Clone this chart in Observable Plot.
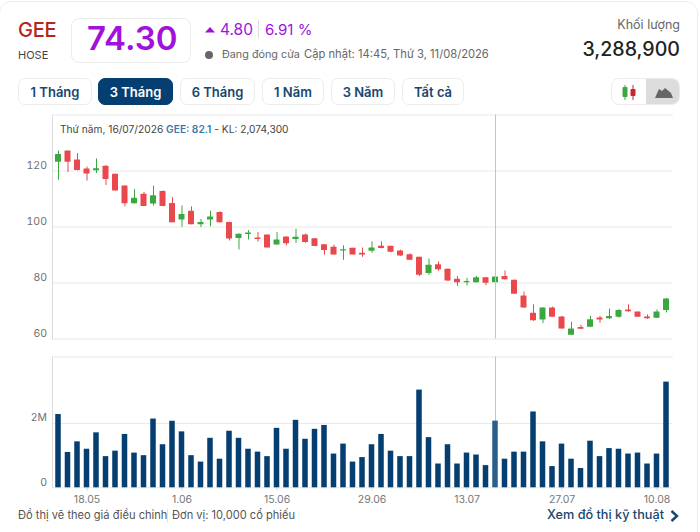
<!DOCTYPE html>
<html lang="vi">
<head>
<meta charset="utf-8">
<script src="https://cdn.jsdelivr.net/npm/d3@7"></script>
<script src="https://cdn.jsdelivr.net/npm/@observablehq/plot@0.6"></script>
<style>
html,body{margin:0;padding:0;background:#fff;width:700px;height:532px;overflow:hidden;font-family:Inter,"Noto Sans",sans-serif;}
#card{position:absolute;left:-1px;top:1px;width:699px;height:560px;border:1px solid #eeeeee;border-radius:12px;box-sizing:border-box;}
.t{position:absolute;white-space:nowrap;line-height:1;}
.box{position:absolute;box-sizing:border-box;border:1px solid #ececec;border-radius:8px;background:#fff;}
.btn{position:absolute;top:78px;height:27px;box-sizing:border-box;border:1px solid #ececec;border-radius:7px;background:#fff;color:#17476e;font-size:13px;font-weight:600;display:flex;align-items:center;justify-content:center;}
.btn.on{background:#053e70;border-color:#053e70;color:#fff;}
#top,#bottom{position:absolute;left:0;}
#top{top:0;}#bottom{top:345px;}
</style>
</head>
<body>
<div id="card"></div>
<div id="top"></div>
<div id="bottom"></div>

<div class="t" style="left:18px;top:20px;font-size:20px;color:#b3261e;font-weight:500;letter-spacing:-.3px">GEE</div>
<div class="t" style="left:18px;top:50px;font-size:11px;color:#444">HOSE</div>
<div class="box" style="left:71px;top:18px;width:120px;height:45px"></div>
<div class="t" style="left:87px;top:22px;font-size:33px;font-weight:600;color:#a012dc">74.30</div>
<svg width="12" height="8" style="position:absolute;left:204px;top:26px"><path d="M1 6.5L6 1L11 6.5Z" fill="#a012dc"/></svg>
<div class="t" style="left:220px;top:22px;font-size:15.5px;color:#a012dc">4.80</div>
<div style="position:absolute;left:258px;top:20px;width:1px;height:18px;background:#ddd"></div>
<div class="t" style="left:265px;top:22px;font-size:15px;color:#a012dc">6.91 %</div>
<div style="position:absolute;left:205px;top:51px;width:8px;height:8px;border-radius:50%;background:#666"></div>
<div class="t" style="left:222px;top:50px;font-size:10.8px;color:#666">Đang đóng cửa</div>
<div class="t" style="left:304px;top:49px;font-size:11.2px;color:#666">Cập nhật: 14:45, Thứ 3, 11/08/2026</div>
<div class="t" style="right:20px;top:19px;font-size:12.5px;color:#666">Khối lượng</div>
<div class="t" style="right:20px;top:40px;font-size:19.6px;color:#222;font-weight:500">3,288,900</div>

<div class="btn" style="left:18px;width:74px">1 Tháng</div>
<div class="btn on" style="left:98px;width:75px">3 Tháng</div>
<div class="btn" style="left:180px;width:75px">6 Tháng</div>
<div class="btn" style="left:262px;width:62px">1 Năm</div>
<div class="btn" style="left:331px;width:64px">3 Năm</div>
<div class="btn" style="left:402px;width:62px">Tất cả</div>

<div class="box" style="left:611px;top:78px;width:69px;height:27px;overflow:hidden">
  <div style="position:absolute;left:34px;top:0;width:35px;height:27px;background:#dcdcdc"></div>
  <svg width="69" height="27" style="position:absolute;left:0;top:0">
    <path d="M13 6V21" stroke="#3aa83f"/><rect x="10.5" y="8" width="5" height="10" rx="1" fill="#3aa83f"/>
    <path d="M21 6V21" stroke="#c8282d"/><rect x="18.5" y="10" width="5" height="7" rx="1" fill="#c8282d"/>
    <path d="M43 19L47 10L50 12L53 9L59 14L61 19Z" fill="#666"/>
  </svg>
</div>

<div class="t" style="left:60px;top:124px;font-size:10.2px;color:#444">Thứ năm, 16/07/2026 <span style="color:#3b78ad;font-weight:600">GEE: 82.1</span> - KL: 2,074,300</div>

<div class="t" style="left:18px;top:510px;font-size:11.1px;color:#555">Đồ thị vẽ theo giá điều chỉnh</div>
<div style="position:absolute;left:167px;top:509px;width:1px;height:14px;background:#e2e2e2"></div>
<div class="t" style="left:172px;top:510px;font-size:11.1px;color:#555">Đơn vị: 10,000 cổ phiếu</div>
<div class="t" style="left:547px;top:509px;font-size:12.7px;font-weight:500;color:#17476e">Xem đồ thị kỹ thuật</div>
<svg width="12" height="14" style="position:absolute;left:669px;top:509px"><path d="M2.5 2L8 7L2.5 12" fill="none" stroke="#17476e" stroke-width="2.4"/></svg>

<script>
const dates = ["13.05","14.05","15.05","18.05","19.05","20.05","21.05","22.05","25.05","26.05","27.05","28.05","29.05",
"1.06","2.06","3.06","4.06","5.06","8.06","9.06","10.06","11.06","12.06","15.06","16.06","17.06","18.06","19.06","22.06","23.06","24.06","25.06","26.06",
"29.06","30.06","1.07","2.07","3.07","6.07","7.07","8.07","9.07","10.07","13.07","14.07","15.07","16.07","17.07","20.07","21.07","22.07","23.07","24.07",
"27.07","28.07","29.07","30.07","31.07","3.08","4.08","5.08","6.08","7.08","10.08","11.08"];
const opens = [123.1,127.1,123.9,120.7,120.1,121.7,118.8,114.6,108.3,111.7,108.2,112.7,108.4,102.5,105.6,100.8,102.5,105.2,101.6,95.9,97.3,96.1,97.1,93.6,96.4,95.5,97.1,95.8,93.7,92.8,91.4,92.4,90.6,91.3,93.1,93.1,91.4,90.1,89.2,83.4,86.5,84.9,81.3,80.1,80.1,81.9,80.1,82.3,81,75.4,69.2,66.8,71.1,67.9,61.3,64.1,64.2,67.5,67.2,67.8,70.4,69.6,67.9,67.4,70.2];
const closes = [125.9,123.1,120.2,118.9,120.8,117,112.9,108.3,110.3,107.3,111.2,107.3,101.5,104.5,100.8,101.6,103.6,101.5,95.7,97.4,97.9,95.5,92.5,95.4,94,96.3,94.5,93,91.6,90,91.9,90,90,92.5,92.3,91,89.6,88.1,82.8,86.3,84.7,80.7,80.1,80.5,81.9,79.9,82.1,81.2,76,71.1,66.5,71.1,67.8,63.6,63.6,63.5,66.9,66.8,68,70.2,69.7,67.8,67.2,69.6,74.3];
const highs = [127.1,127.1,126.2,121.4,124.3,121.8,118.8,114.6,113.4,112.4,114.6,112.9,110.5,107.5,107.2,102.7,105.6,105.4,101.7,97.5,98.7,98,97.1,98,96.4,99.2,97.5,95.8,93.7,93.5,93.3,92.4,92.5,94.7,94.7,93.1,91.7,90.4,89.2,88.6,87.5,85,82.3,81.7,82.3,81.9,83.4,84.3,81,76.8,72.2,71.1,71.4,68.1,66,64.9,68.1,68.1,70.7,70.5,72.2,69.6,68.6,70.4,74.5];
const lows = [116.7,119.5,120,116.4,119.1,114.8,112.9,107.2,108.2,107.3,107.5,107.3,101.5,99.9,100.8,99.8,100.1,101.5,95,91.8,95.4,94.6,92.5,93.5,93.3,94.1,94.2,93,89.9,90,88.1,90,89.2,90.6,92.2,90.8,89.5,88,82.3,82.7,84.2,80.6,78.8,79,80,79,75.6,81,76,71,66.3,65.5,67.8,63.5,61.3,63.4,64.2,65.6,67,67.4,69.5,67.8,67,67.4,69.3];
const volumes = [2280000,1100000,1430000,1200000,1710000,970000,1140000,1660000,1080000,1000000,2140000,1340000,2070000,1740000,1000000,800000,1540000,890000,1760000,1540000,1200000,1110000,970000,1850000,1200000,2100000,1510000,1820000,1940000,1050000,1360000,800000,940000,1340000,1660000,1140000,970000,970000,3040000,1560000,740000,1340000,740000,1080000,1020000,690000,2074300,890000,1110000,1110000,2360000,1430000,660000,1360000,890000,600000,1450000,970000,1220000,1200000,1050000,1080000,740000,1050000,3288900];
const priceTicks = [60,80,100,120];
const volumeTicks = [0,2000000];
const dateTicks = ["18.05","1.06","15.06","29.06","13.07","27.07","10.08"];
const selected = "16.07";

const up = "#3aa83f", down = "#e9484d", barColor = "#053e70", gridColor = "#e9e9e9", frameColor = "#dcdcdc";
const rows = dates.map((d,i)=>({d,open:opens[i],close:closes[i],high:highs[i],low:lows[i],vol:volumes[i],dir:closes[i]>=opens[i]?"up":"down"}));
const xScale = {type:"band",domain:dates,range:[53.25,670.75],padding:0,align:.5,axis:null};
const css = {background:"transparent",fontFamily:"Inter,'Noto Sans',sans-serif",fontSize:"11px"};

document.getElementById("top").append(Plot.plot({
  width:700,height:345,marginTop:114.5,marginBottom:6.5,marginLeft:52,marginRight:28,style:css,
  x:xScale,
  y:{domain:[60,140],axis:null},
  color:{domain:["up","down"],range:[up,down]},
  marks:[
    Plot.ruleY(priceTicks,{stroke:gridColor}),
    Plot.frame({anchor:"left",stroke:frameColor}),
    Plot.frame({anchor:"top",stroke:gridColor}),
    Plot.axisY({ticks:priceTicks,tickSize:0,tickPadding:5.5,dy:-5.5,fill:"#707070",label:null,fontSize:10.5}),
    Plot.ruleX(rows,{x:"d",y1:"low",y2:"high",stroke:"dir",strokeWidth:1}),
    Plot.barY(rows,{x:"d",y1:"open",y2:"close",fill:"dir",insetLeft:1.75,insetRight:1.75,rx:.5}),
    Plot.ruleX([selected],{x:d=>d,stroke:"#c4c4c4",strokeWidth:1})
  ]
}));

document.getElementById("bottom").append(Plot.plot({
  width:700,height:165,marginTop:11.5,marginBottom:22.7,marginLeft:52,marginRight:28,style:css,
  x:xScale,
  y:{domain:[0,4070000],axis:null},
  marks:[
    Plot.ruleY(volumeTicks,{stroke:gridColor}),
    Plot.frame({anchor:"left",stroke:frameColor}),
    Plot.frame({anchor:"top",stroke:gridColor}),
    Plot.axisY({ticks:volumeTicks,tickFormat:d=>d?d/1e6+"M":"0",tickSize:0,tickPadding:5.5,dy:-5.5,fill:"#707070",label:null,fontSize:10.5}),
    Plot.axisX({ticks:dateTicks,tickSize:3,tickPadding:5,stroke:"#d5d5d5",fill:"#777",label:null,fontSize:10.5}),
    Plot.ruleX([selected],{x:d=>d,stroke:"#c4c4c4",strokeWidth:1}),
    Plot.barY(rows,{x:"d",y:"vol",fill:d=>d.d===selected?"#2a5f8c":barColor,insetLeft:2,insetRight:2})
  ]
}));
</script>
</body>
</html>
